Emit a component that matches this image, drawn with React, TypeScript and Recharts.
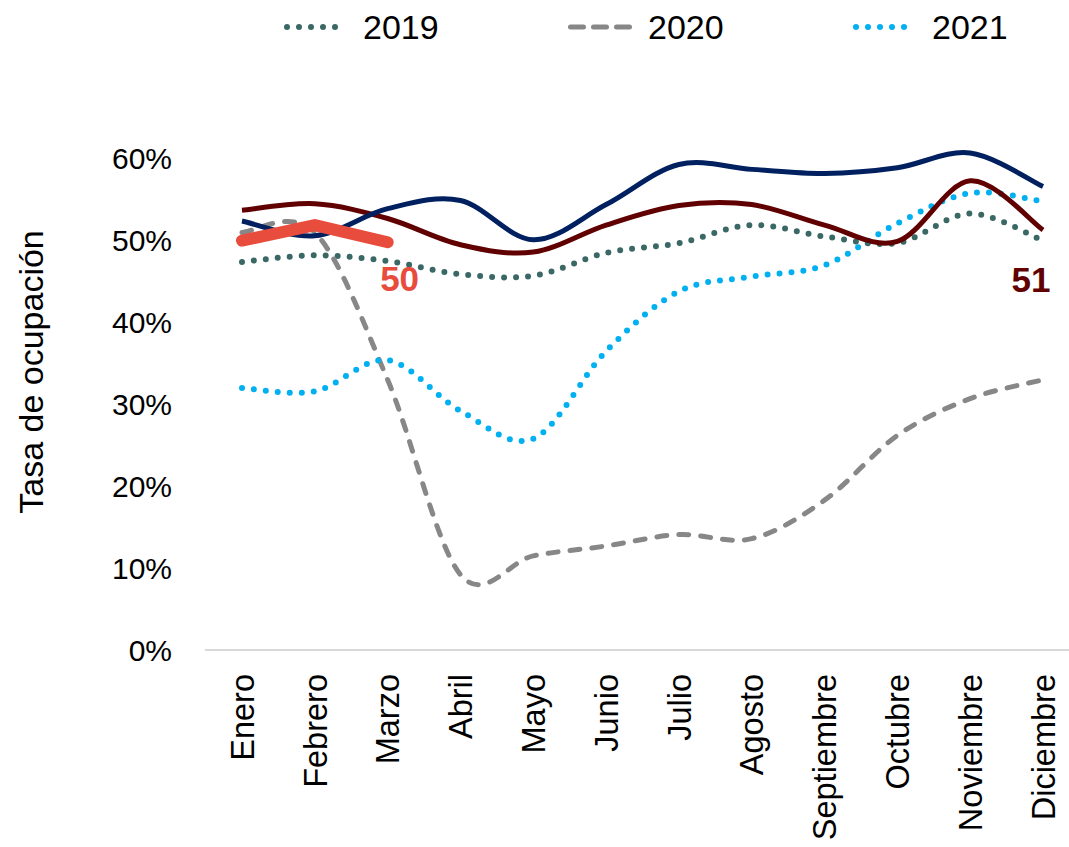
import React from 'react'
import { LineChart, Line, XAxis, YAxis } from 'recharts'

const meses = ['Enero', 'Febrero', 'Marzo', 'Abril', 'Mayo', 'Junio', 'Julio', 'Agosto', 'Septiembre', 'Octubre', 'Noviembre', 'Diciembre']

const serie2019 = [47.4, 48.2, 47.5, 45.9, 45.7, 48.5, 49.7, 51.9, 50.5, 49.7, 53.3, 50.0]
const serie2020 = [51.0, 51.0, 33.0, 9.2, 11.5, 12.7, 14.1, 13.6, 18.3, 26.2, 30.7, 33.0]
const serie2021 = [32.0, 31.6, 35.4, 29.2, 25.8, 36.5, 43.8, 45.6, 47.0, 52.1, 55.8, 54.8]
const serieAzul = [52.4, 50.6, 53.9, 54.9, 50.1, 54.4, 59.3, 58.7, 58.2, 58.9, 60.7, 56.6]
const serieGranate = [53.7, 54.5, 52.7, 49.5, 48.6, 51.9, 54.3, 54.4, 51.9, 49.9, 57.3, 51.3]
const serieRoja = [50.0, 51.9, 49.8, null, null, null, null, null, null, null, null, null]

const yTicks = [0, 10, 20, 30, 40, 50, 60]

const data = meses.map((mes, i) => ({
  mes,
  s2019: serie2019[i],
  s2020: serie2020[i],
  s2021: serie2021[i],
  azul: serieAzul[i],
  granate: serieGranate[i],
  roja: serieRoja[i],
}))

const FONT = '"Liberation Sans", Arial, sans-serif'

// smoothed line like the spreadsheet one (catmull-rom through the points)
const suave = (context: any) => {
  let pts: number[][] = []
  return {
    areaStart() {},
    areaEnd() {},
    lineStart() { pts = [] },
    point(x: number, y: number) { pts.push([+x, +y]) },
    lineEnd() {
      if (!pts.length) return
      context.moveTo(pts[0][0], pts[0][1])
      for (let i = 0; i < pts.length - 1; i++) {
        const p0 = pts[i - 1] || pts[i]
        const p1 = pts[i]
        const p2 = pts[i + 1]
        const p3 = pts[i + 2] || pts[i + 1]
        context.bezierCurveTo(
          p1[0] + (p2[0] - p0[0]) / 6, p1[1] + (p2[1] - p0[1]) / 6,
          p2[0] - (p3[0] - p1[0]) / 6, p2[1] - (p3[1] - p1[1]) / 6,
          p2[0], p2[1]
        )
      }
    },
  }
}

const leyenda = [
  { name: '2019', color: '#3a6864', dash: '0 12', x: 287, x2: 347, tx: 363 },
  { name: '2020', color: '#878787', dash: '13 10', x: 570.5, x2: 630.5, tx: 648 },
  { name: '2021', color: '#00b0f0', dash: '0 12', x: 856, x2: 916, tx: 932 },
]

const MesTick = (props: any) => {
  const { x, y, payload } = props
  return (
    <g transform={`translate(${x},${y})`}>
      <text transform="rotate(-90)" textAnchor="end" x={0} y={0} dy="0.36em" fontSize={32.5} fontFamily={FONT} fill="#000">
        {payload.value}
      </text>
    </g>
  )
}

const etiquetaFinal = (serie: (number | null)[], color: string, dx: number, dy: number) => (props: any) => {
  const { x, y, index } = props
  let last = -1
  serie.forEach((v, i) => { if (v != null) last = i })
  if (index !== last) return null
  return (
    <text x={x + dx} y={y + dy} textAnchor="middle" fontSize={35} fontWeight="bold" fontFamily={FONT} fill={color}>
      {Math.round(serie[last] as number)}
    </text>
  )
}

export default function App() {
  return (
    <div style={{ position: 'absolute', left: 0, top: 0, width: 1069, height: 847, overflow: 'hidden', background: '#fff' }}>
      <svg width={1069} height={60} style={{ position: 'absolute', left: 0, top: 0 }}>
        {leyenda.map((l) => (
          <g key={l.name}>
            <line x1={l.x} x2={l.x2} y1={27} y2={27} stroke={l.color} strokeWidth={l.name === '2020' ? 5 : 6} strokeDasharray={l.dash} strokeLinecap="round" />
            <text x={l.tx} y={39} fontSize={34} fontFamily={FONT} fill="#000">{l.name}</text>
          </g>
        ))}
      </svg>
      <LineChart width={1085} height={847} data={data} margin={{ top: 153, right: 5, bottom: 0, left: 0 }}>
        <XAxis
          dataKey="mes"
          interval={0}
          height={197}
          padding={{ left: 37, right: 37 }}
          tickLine={false}
          tickMargin={18}
          axisLine={{ stroke: '#d9d9d9', strokeWidth: 2 }}
          tick={<MesTick />}
        />
        <YAxis
          width={205}
          domain={[0, 60]}
          ticks={yTicks}
          axisLine={false}
          tickLine={false}
          tickMargin={27}
          tickFormatter={(v) => `${v}%`}
          tick={{ fontSize: 30, fontFamily: FONT, fill: '#000' }}
          label={{
            content: () => (
              <text transform="translate(43, 372) rotate(-90)" textAnchor="middle" fontSize={34} fontFamily={FONT} fill="#000">
                Tasa de ocupación
              </text>
            ),
          }}
        />
        <Line dataKey="s2019" name="2019" type={suave as any} stroke="#3a6864" strokeWidth={6} strokeDasharray="0 12" strokeLinecap="round" dot={false} isAnimationActive={false} />
        <Line dataKey="s2020" name="2020" type={suave as any} stroke="#878787" strokeWidth={5} strokeDasharray="10 12" strokeLinecap="round" dot={false} isAnimationActive={false} />
        <Line dataKey="s2021" name="2021" type={suave as any} stroke="#00b0f0" strokeWidth={6} strokeDasharray="0 12" strokeLinecap="round" dot={false} isAnimationActive={false} />
        <Line dataKey="granate" type={suave as any} stroke="#600000" strokeWidth={5} dot={false} isAnimationActive={false} label={etiquetaFinal(serieGranate, '#600000', -12, 62)} />
        <Line dataKey="azul" type={suave as any} stroke="#002060" strokeWidth={5} dot={false} isAnimationActive={false} />
        <Line dataKey="roja" type="linear" stroke="#e84c3d" strokeWidth={12} strokeLinecap="round" strokeLinejoin="round" dot={false} isAnimationActive={false} label={etiquetaFinal(serieRoja, '#e84c3d', 12, 48.5)} />
      </LineChart>
    </div>
  )
}
